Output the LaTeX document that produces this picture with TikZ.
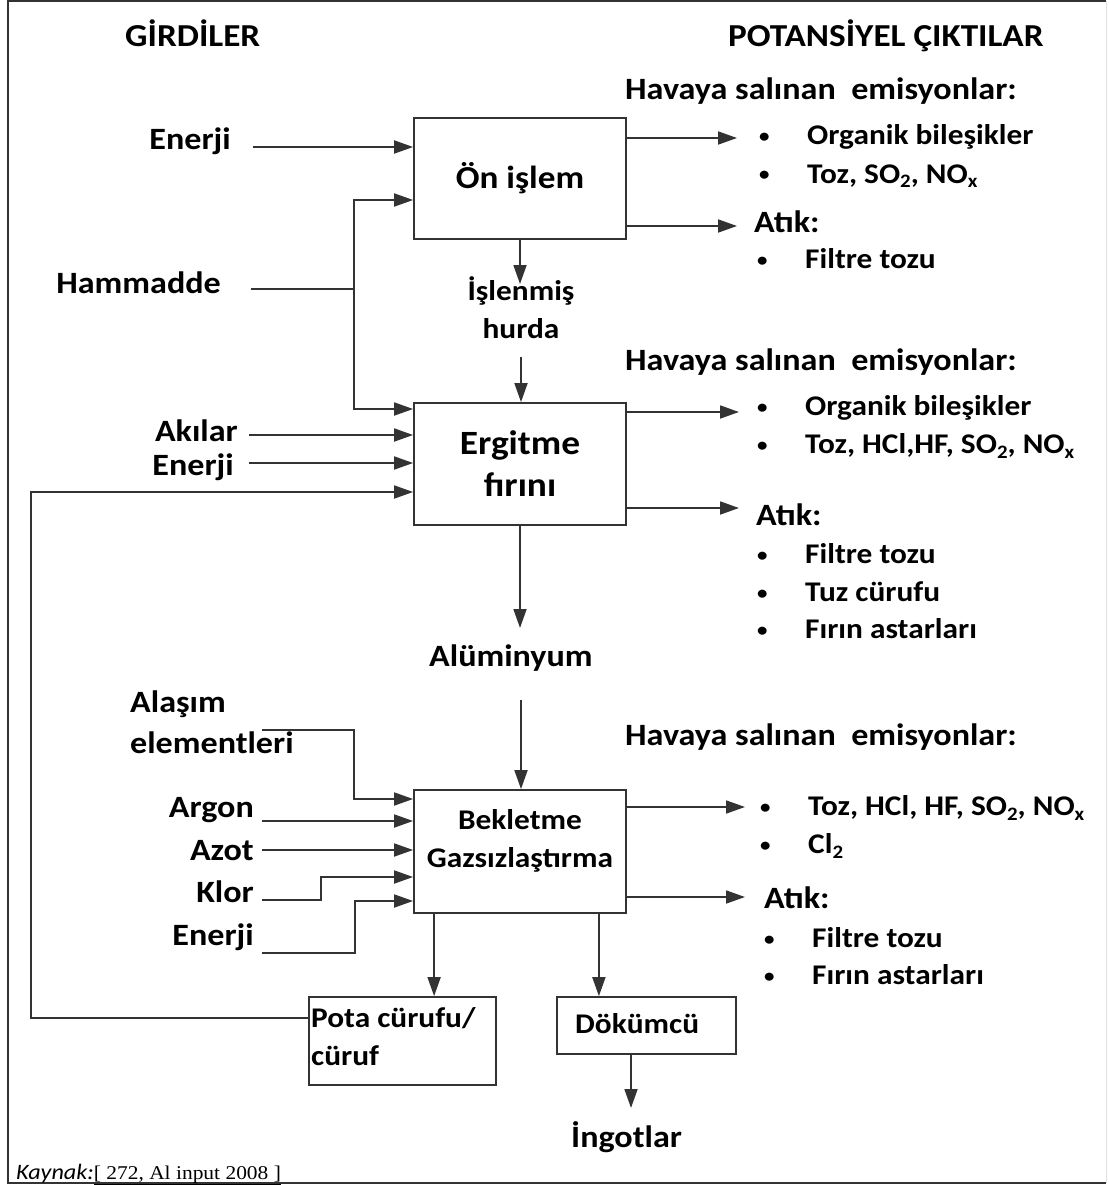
\documentclass[tikz,border=0pt]{standalone}
\usepackage{fontspec}
\setmainfont{Carlito}[FakeStretch=1.1]
\newfontfamily\srcfont{Liberation Serif}[FakeStretch=1.1]
\usetikzlibrary{arrows.meta, positioning}

% bullet item of the output lists, and a lowered index
\newcommand{\itm}[1]{\makebox[48pt][l]{\raisebox{2pt}{\fontsize{19}{19}\selectfont\textbullet}}#1}
\newcommand{\idx}[1]{\raisebox{-5pt}{\fontsize{19}{19}\selectfont #1}}

\begin{document}
\begin{tikzpicture}[x=1pt, y=-1pt,
  flow/.style={draw=black!80, line width=1.8pt, -{Triangle[length=19pt, width=13pt]}},
  wire/.style={draw=black!80, line width=1.8pt},
  stage/.style={draw=black!80, line width=1.8pt, inner sep=0pt, align=center,
                font=\fontsize{32}{42}\selectfont\bfseries},
  head/.style={font=\fontsize{31}{41}\selectfont\bfseries, inner sep=0pt},
  inp/.style={head, anchor=base east},
  txt/.style={head, anchor=base west},
  small/.style={font=\fontsize{28.5}{38}\selectfont\bfseries, inner sep=0pt},
  item/.style={small, anchor=base west},
]
  \useasboundingbox (0,0) rectangle (1108,1185);
  \draw[black!80, line width=2pt] (1106,1.5) -- (8,1.5) -- (8,1183) -- (1106,1183);
  \draw[black!12, line width=1pt] (1106,1.5) -- (1106,1183);

  \node[txt, font=\fontsize{32}{40}\selectfont\bfseries] (girdiler) at (125,47) {GİRDİLER};
  \node[txt, font=\fontsize{32}{40}\selectfont\bfseries] (ciktilar) at (728,47) {POTANSİYEL ÇIKTILAR};

  % process boxes (base of a two-line text is its last line)
  \node[stage, minimum width=212pt, minimum height=121pt] (onislem) at (520,178.5) {Ön işlem};
  \node[stage, minimum width=212pt, minimum height=122pt,
        font=\fontsize{34}{42}\selectfont\bfseries] (ergitme) at (520,464) {Ergitme\\fırını};
  \node[stage, minimum width=212pt, minimum height=123pt] (bekletme) at (520,851.5) {};
  \node[small, align=center, anchor=base] (bekletmetxt) at (520,867) {Bekletme\\Gazsızlaştırma};
  \node[stage, minimum width=187pt, minimum height=88pt] (pota) at (402.5,1041) {};
  \node[small, align=left, anchor=base west] (potatxt) at (311,1065) {Pota cürufu/\\cüruf};
  \node[stage, minimum width=179pt, minimum height=57pt] (dokumcu) at (646.5,1025.5) {};
  \node[small, anchor=base west] (dokumcutxt) at (575,1033) {Dökümcü};

  % inputs
  \node[inp] (enerjiA) at (231,150) {Enerji};
  \node[inp] (hammadde) at (221,293) {Hammadde};
  \node[inp] (akilar) at (238,441) {Akılar};
  \node[inp] (enerjiB) at (234,475) {Enerji};
  \node[txt, align=left] (alasim) at (130,753) {Alaşım\\elementleri};
  \node[inp] (argon) at (254,817) {Argon};
  \node[inp] (azot) at (254,860) {Azot};
  \node[inp] (klor) at (254,902) {Klor};
  \node[inp] (enerjiC) at (254,945) {Enerji};

  % intermediate products
  \node[small, align=center, anchor=base] (islenmis) at (521,338) {İşlenmiş\\hurda};
  \node[txt] (aluminyum) at (429,666) {Alüminyum};
  \node[txt] (ingotlar) at (571,1147) {İngotlar};

  % outputs
  \node[txt] (havayaA) at (625,100) {Havaya salınan\ \ emisyonlar:};
  \node[item] (orgA) at (759,145) {\itm{Organik bileşikler}};
  \node[item] (tozA) at (759,183) {\itm{Toz, SO\idx{2}, NO\idx{x}}};
  \node[txt] (atikA) at (754,232) {Atık:};
  \node[item] (filtreA) at (757,268) {\itm{Filtre tozu}};

  \node[txt] (havayaB) at (625,370) {Havaya salınan\ \ emisyonlar:};
  \node[item] (orgB) at (757,415) {\itm{Organik bileşikler}};
  \node[item] (tozB) at (757,453) {\itm{Toz, HCl,HF, SO\idx{2}, NO\idx{x}}};
  \node[txt] (atikB) at (756,525) {Atık:};
  \node[item] (filtreB) at (757,563) {\itm{Filtre tozu}};
  \node[item] (tuzB) at (757,601) {\itm{Tuz cürufu}};
  \node[item] (firinB) at (757,638) {\itm{Fırın astarları}};

  \node[txt] (havayaC) at (625,745) {Havaya salınan\ \ emisyonlar:};
  \node[item] (tozC) at (760,815) {\itm{Toz, HCl, HF, SO\idx{2}, NO\idx{x}}};
  \node[item] (clC) at (760,853) {\itm{Cl\idx{2}}};
  \node[txt] (atikC) at (764,908) {Atık:};
  \node[item] (filtreC) at (764,947) {\itm{Filtre tozu}};
  \node[item] (firinC) at (764,984) {\itm{Fırın astarları}};

  \node[anchor=base west, inner sep=0pt, font=\fontsize{22}{26}\selectfont\itshape] (kaynak)
    at (16,1179) {Kaynak:{\srcfont\upshape\fontsize{19.5}{24}\selectfont\underline{[ 272, Al input 2008 ]}}};

  % input arrows
  \coordinate (eA) at (253,147);
  \draw[flow] (eA) -- (eA -| onislem.west);
  \coordinate (hA) at (251,289);
  \coordinate (hJ) at (354,289);
  \draw[wire] (hA) -- (hJ);
  \draw[flow] (hJ) |- (onislem.west |- 0,200);
  \draw[flow] (hJ) |- (ergitme.west |- 0,409);
  \coordinate (akA) at (249,435);
  \draw[flow] (akA) -- (akA -| ergitme.west);
  \coordinate (eB) at (249,463);
  \draw[flow] (eB) -- (eB -| ergitme.west);
  \coordinate (loop) at (31,492);
  \draw[flow] (pota.west |- 0,1018) -| (loop) -- (loop -| ergitme.west);

  \coordinate (alA) at (262,730);
  \draw[flow] (alA) -| (354,799) -- (bekletme.west |- 0,799);
  \coordinate (arA) at (262,821);
  \draw[flow] (arA) -- (arA -| bekletme.west);
  \coordinate (azA) at (262,850);
  \draw[flow] (azA) -- (azA -| bekletme.west);
  \coordinate (klA) at (262,900);
  \draw[flow] (klA) -- (321,900) |- (bekletme.west |- 0,877);
  \coordinate (eC) at (262,953);
  \draw[flow] (eC) -- (355,953) |- (bekletme.west |- 0,901);

  % main line
  \draw[flow] (onislem.south) -- (onislem.south |- 0,284);
  \coordinate (hurdaOut) at (521,357);
  \draw[flow] (hurdaOut) -- (hurdaOut |- ergitme.north);
  \draw[flow] (ergitme.south) -- (ergitme.south |- 0,628);
  \coordinate (aluOut) at (521,700);
  \draw[flow] (aluOut) -- (aluOut |- bekletme.north);
  \coordinate[right=21pt of bekletme.south west] (cufOut);
  \draw[flow] (cufOut) -- (cufOut |- pota.north);
  \coordinate[left=28pt of bekletme.south east] (castOut);
  \draw[flow] (castOut) -- (castOut |- dokumcu.north);
  \coordinate[left=15.5pt of dokumcu.south] (ingOut);
  \draw[flow] (ingOut) -- (ingOut |- 0,1108);

  % output arrows
  \coordinate (oA1) at (737,138);
  \draw[flow] (oA1 -| onislem.east) -- (oA1);
  \coordinate (oA2) at (737,226);
  \draw[flow] (oA2 -| onislem.east) -- (oA2);
  \coordinate (oB1) at (739,412);
  \draw[flow] (oB1 -| ergitme.east) -- (oB1);
  \coordinate (oB2) at (739,508);
  \draw[flow] (oB2 -| ergitme.east) -- (oB2);
  \coordinate (oC1) at (745,807);
  \draw[flow] (oC1 -| bekletme.east) -- (oC1);
  \coordinate (oC2) at (745,897);
  \draw[flow] (oC2 -| bekletme.east) -- (oC2);
\end{tikzpicture}
\end{document}
